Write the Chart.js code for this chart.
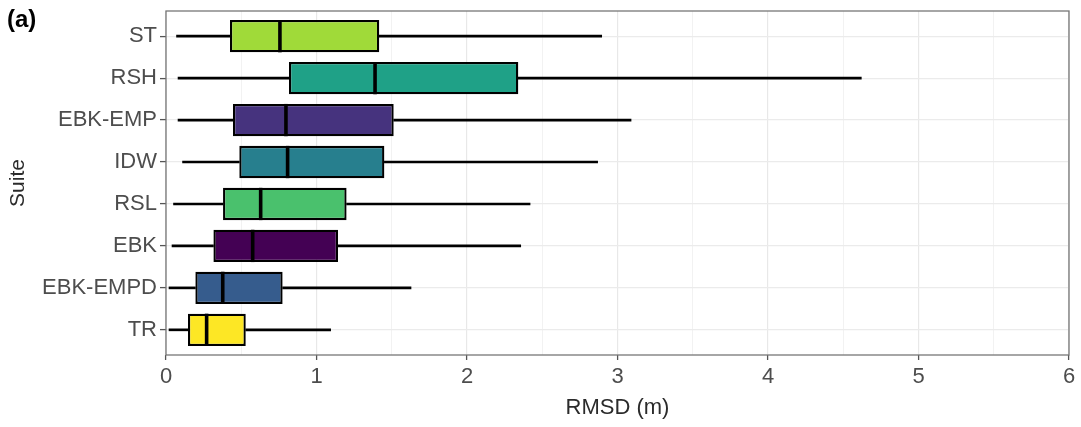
<!DOCTYPE html>
<html>
<head>
<meta charset="utf-8">
<title>RMSD by suite</title>
<script src="https://cdn.jsdelivr.net/npm/chart.js@4/dist/chart.umd.min.js"></script>
<style>
  html, body { margin: 0; padding: 0; background: #ffffff; }
  #wrap { position: relative; width: 1081px; height: 427px; }
  #panel-tag {
    position: absolute; left: 7px; top: 5px;
    font: bold 24px 'Liberation Sans', Arial, sans-serif; color: #000;
  }
</style>
</head>
<body>
<div id="wrap">
  <canvas id="chart" width="1081" height="427"></canvas>
  <div id="panel-tag">(a)</div>
</div>
<script>
// Suites, listed top to bottom
const suites = ['ST', 'RSH', 'EBK-EMP', 'IDW', 'RSL', 'EBK', 'EBK-EMPD', 'TR'];

// Box-plot statistics of RMSD (m) per suite
const whiskerLow  = [0.07, 0.08, 0.08, 0.11, 0.05, 0.04, 0.02, 0.02];
const q1          = [0.425, 0.817, 0.445, 0.487, 0.379, 0.315, 0.195, 0.146];
const median      = [0.757, 1.389, 0.797, 0.808, 0.629, 0.576, 0.377, 0.270];
const q3          = [1.417, 2.341, 1.513, 1.451, 1.200, 1.143, 0.775, 0.530];
const whiskerHigh = [2.895, 4.620, 3.090, 2.868, 2.419, 2.357, 1.628, 1.094];

// Fill colours (viridis)
const fills = ['#A0DA39', '#1FA187', '#46337E', '#277F8E', '#4AC16D', '#440154', '#365C8D', '#FDE725'];

// X axis: labelled integers, unlabelled half steps
const xMin = 0, xMax = 6, xStep = 0.5;

const FONT = "'Liberation Sans', Arial, sans-serif";
Chart.defaults.font.family = FONT;

const pairs = (a, b) => suites.map((_, i) => ({ x: [a[i], b[i]], y: i }));

// Median bars and panel frame
const boxExtras = {
  id: 'boxExtras',
  afterDatasetsDraw(chart) {
    const ctx = chart.ctx;
    const xs = chart.scales.x;
    const meta = chart.getDatasetMeta(0);
    ctx.save();
    ctx.strokeStyle = '#000000';
    ctx.lineWidth = 3.6;
    ctx.lineCap = 'butt';
    meta.data.forEach((el, i) => {
      const px = xs.getPixelForValue(median[i]);
      const h = el.height;
      ctx.beginPath();
      ctx.moveTo(px, el.y - h / 2);
      ctx.lineTo(px, el.y + h / 2);
      ctx.stroke();
    });
    const a = chart.chartArea;
    ctx.strokeStyle = '#777777';
    ctx.lineWidth = 1.3;
    ctx.strokeRect(a.left, a.top, a.right - a.left, a.bottom - a.top);
    ctx.restore();
  }
};

const isMajor = v => Math.abs(v - Math.round(v)) < 1e-9;

new Chart(document.getElementById('chart'), {
  type: 'bar',
  data: {
    datasets: [
      {
        label: 'IQR',
        data: pairs(q1, q3),
        backgroundColor: fills,
        borderColor: '#000000',
        borderWidth: 2.3,
        borderSkipped: false,
        grouped: false,
        categoryPercentage: 1,
        barPercentage: 0.77
      },
      {
        label: 'lower whisker',
        data: pairs(whiskerLow, q1),
        backgroundColor: '#000000',
        borderWidth: 0,
        grouped: false,
        barThickness: 2
      },
      {
        label: 'upper whisker',
        data: pairs(q3, whiskerHigh),
        backgroundColor: '#000000',
        borderWidth: 0,
        grouped: false,
        barThickness: 2
      }
    ]
  },
  options: {
    indexAxis: 'y',
    responsive: false,
    devicePixelRatio: 1,
    animation: false,
    layout: { padding: { top: 11, right: 12, left: 0, bottom: 0 } },
    plugins: { legend: { display: false }, tooltip: { enabled: false } },
    scales: {
      x: {
        type: 'linear',
        min: xMin,
        max: xMax,
        offset: false,
        afterFit(scale) { scale.height = 72; },
        border: { display: false },
        grid: {
          offset: false,
          color: c => isMajor(c.tick.value) ? '#e8e8e8' : '#f2f2f2',
          lineWidth: c => isMajor(c.tick.value) ? 1.2 : 1,
          tickColor: c => isMajor(c.tick.value) ? '#555555' : 'rgba(0,0,0,0)',
          tickLength: 5,
          tickWidth: 1.3
        },
        ticks: {
          stepSize: xStep,
          autoSkip: false,
          maxRotation: 0,
          padding: 4,
          color: '#4d4d4d',
          font: { size: 22 },
          callback: v => isMajor(v) ? String(Math.round(v)) : ''
        },
        title: {
          display: true,
          text: 'RMSD (m)',
          color: '#2b2b2b',
          font: { size: 22 },
          padding: { top: 0, bottom: 6 }
        }
      },
      y: {
        type: 'linear',
        min: -0.6,
        max: suites.length - 1 + 0.6,
        reverse: true,
        offset: false,
        afterFit(scale) {
          scale.width = 166;
          scale.paddingTop = 0;
          scale.paddingBottom = 0;
        },
        afterBuildTicks(scale) {
          scale.ticks = scale.ticks.filter(t => isMajor(t.value) && t.value >= 0 && t.value < suites.length);
        },
        border: { display: false },
        grid: {
          offset: false,
          color: '#ebebeb',
          lineWidth: 1.2,
          tickColor: '#555555',
          tickLength: 6,
          tickWidth: 1.3
        },
        ticks: {
          stepSize: 1,
          autoSkip: false,
          padding: 3,
          color: '#4d4d4d',
          font: { size: 22 },
          callback: v => suites[Math.round(v)]
        },
        title: {
          display: true,
          text: 'Suite',
          color: '#2b2b2b',
          font: { size: 21 },
          padding: { top: 6, bottom: 0 }
        }
      }
    }
  },
  plugins: [boxExtras]
});
</script>
</body>
</html>
